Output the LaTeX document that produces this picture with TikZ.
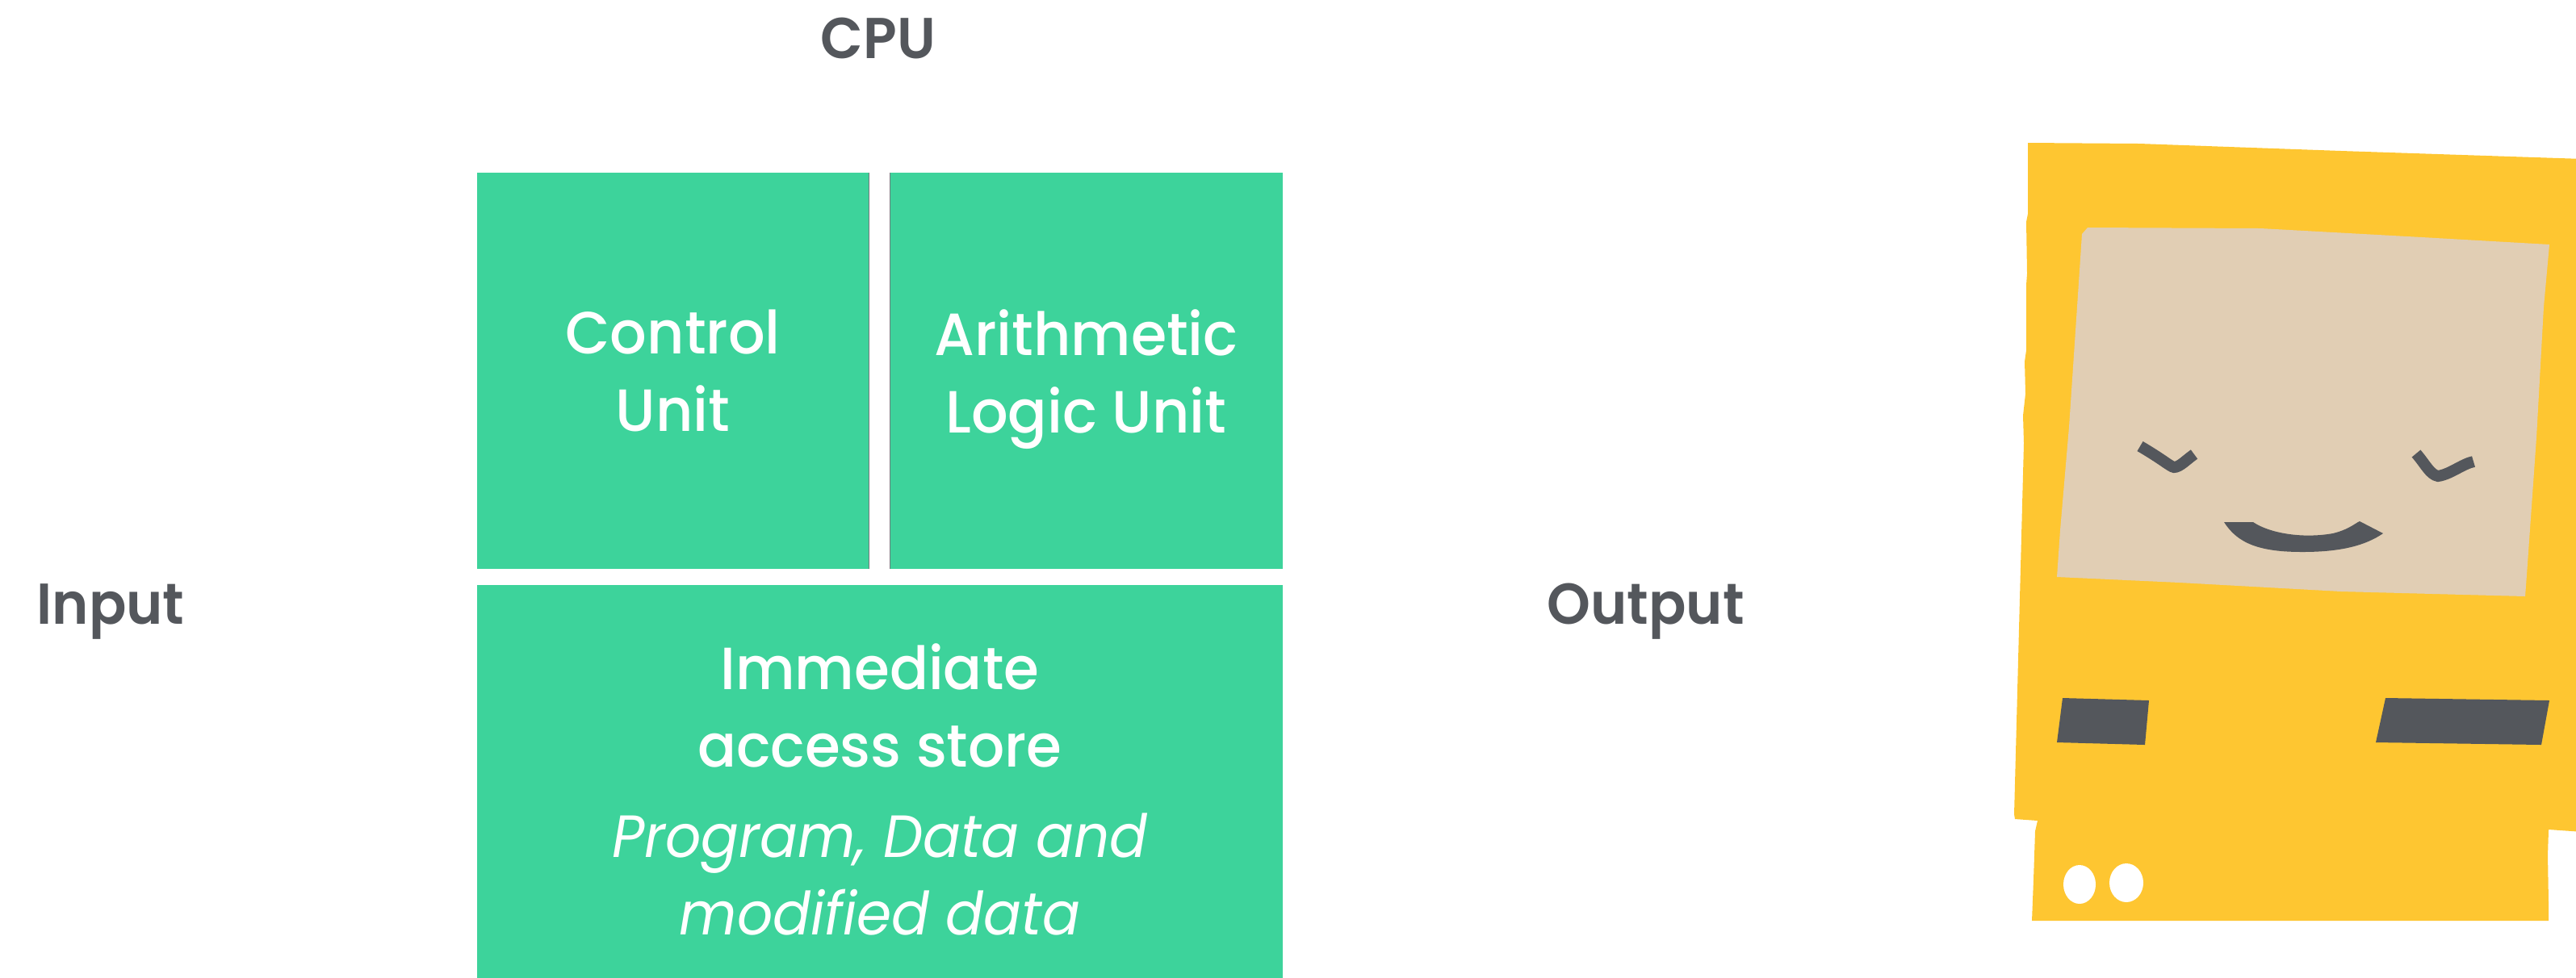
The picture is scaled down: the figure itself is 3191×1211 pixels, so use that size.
\documentclass[tikz,border=0pt]{standalone}
\usepackage{fontspec}
\usepackage{xcolor}
\usepackage{tikz}
\usetikzlibrary{positioning}
\setmainfont{Poppins}[BoldFont={* SemiBold}, ItalicFont={* Italic}]
\newfontfamily\unitfont{Poppins Medium}[FakeStretch=0.97]
\newfontfamily\storefont{Poppins Medium}[FakeStretch=0.96]
\newfontfamily\notefont{Poppins Italic}[FakeStretch=0.94]
\newfontfamily\tagfont{Poppins SemiBold}[FakeStretch=0.96]

\definecolor{cpugreen}{HTML}{3DD39B}
\definecolor{inkgrey}{HTML}{54575C}
\definecolor{caseyellow}{HTML}{FEC631}
\definecolor{screenbeige}{HTML}{E1CEB4}

\begin{document}
\begin{tikzpicture}[x=0.01cm, y=-0.01cm,
    cell/.style={fill=cpugreen, text=white, inner sep=0pt, outer sep=0pt,
        align=center, text depth=0pt, font=\fontsize{21}{27.3}\selectfont\unitfont},
    label/.style={text=inkgrey, inner sep=0pt, font=\fontsize{20.3}{24}\selectfont\tagfont},
    seam/.style={draw=inkgrey!80, line width=0.4pt}]
\useasboundingbox (0,0) rectangle (3191,1211);

% the three units of the processor
\node[cell, anchor=north west, minimum width=4.85cm, minimum height=4.91cm] (cu) at (591,214) {Control\\Unit};
\node[cell, right=0.26cm of cu, minimum width=4.86cm, minimum height=4.91cm] (alu) {Arithmetic\\Logic Unit};
\node[cell, below=0.2cm of cu.south west, anchor=north west, minimum width=9.97cm, minimum height=5.06cm] (ias)
    {\storefont Immediate\\ \storefont access store\\[0.16cm] \notefont Program, Data and\\ \notefont modified data};
\draw[seam] (cu.north east) -- (cu.south east);
\draw[seam] (alu.north west) -- (alu.south west);

% labels round it
\node[label] (cpu) at (1088,48) {CPU};
\node[label, anchor=base west] (input) at (45,773) {Input};
\node[label, anchor=base west] (output) at (1916,773) {Output};

% the little computer
\fill[caseyellow] (2512,177) -- (2512,265) -- (2510,275) -- (2511,339) -- (2510,353) -- (2510,434)
    -- (2508,448) -- (2509,488) -- (2506,515) -- (2507,549) -- (2495,1009) -- (2496,1015)
    -- (2524,1017) -- (2521,1030) -- (2519,1090) -- (2517,1141) -- (3157,1141) -- (3157,1120)
    -- (3156,1060) -- (3157,1028) -- (3200,1031) -- (3200,197) -- (2900,187) -- (2650,178) -- cycle;
\fill[screenbeige] (2586,282) -- (2800,283) -- (3000,294) -- (3158,303) -- (3151,380) -- (3142,542)
    -- (3130,712) -- (3128,739) -- (2900,733) -- (2700,722) -- (2548,715) -- (2552,657)
    -- (2563,529) -- (2573,380) -- (2579,290) -- cycle;
% closed eyes and smile
\draw[inkgrey, line width=0.14cm] (2651,553) .. controls (2680,570) and (2688,578) .. (2693,579)
    .. controls (2700,579) and (2708,570) .. (2718,563);
\draw[inkgrey, line width=0.14cm] (2993,562) .. controls (3005,576) and (3010,588) .. (3020,590)
    .. controls (3035,588) and (3050,575) .. (3064,572);
\fill[inkgrey] (2755,647) -- (2791,647) .. controls (2810,660) and (2850,668) .. (2890,661)
    .. controls (2910,656) and (2918,648) .. (2923,646) -- (2952,661)
    .. controls (2930,676) and (2900,684) .. (2852,684)
    .. controls (2800,684) and (2772,674) .. cycle;
% drive slots
\fill[inkgrey] (2555,865) -- (2662,868) -- (2657,923) -- (2548,920) -- cycle;
\fill[inkgrey] (2955,865) -- (3158,868) -- (3148,923) -- (2943,920) -- cycle;
% buttons
\fill[white] (2576,1096) ellipse [x radius=20, y radius=24];
\fill[white] (2634,1094) ellipse [x radius=21, y radius=24];
\end{tikzpicture}
\end{document}
